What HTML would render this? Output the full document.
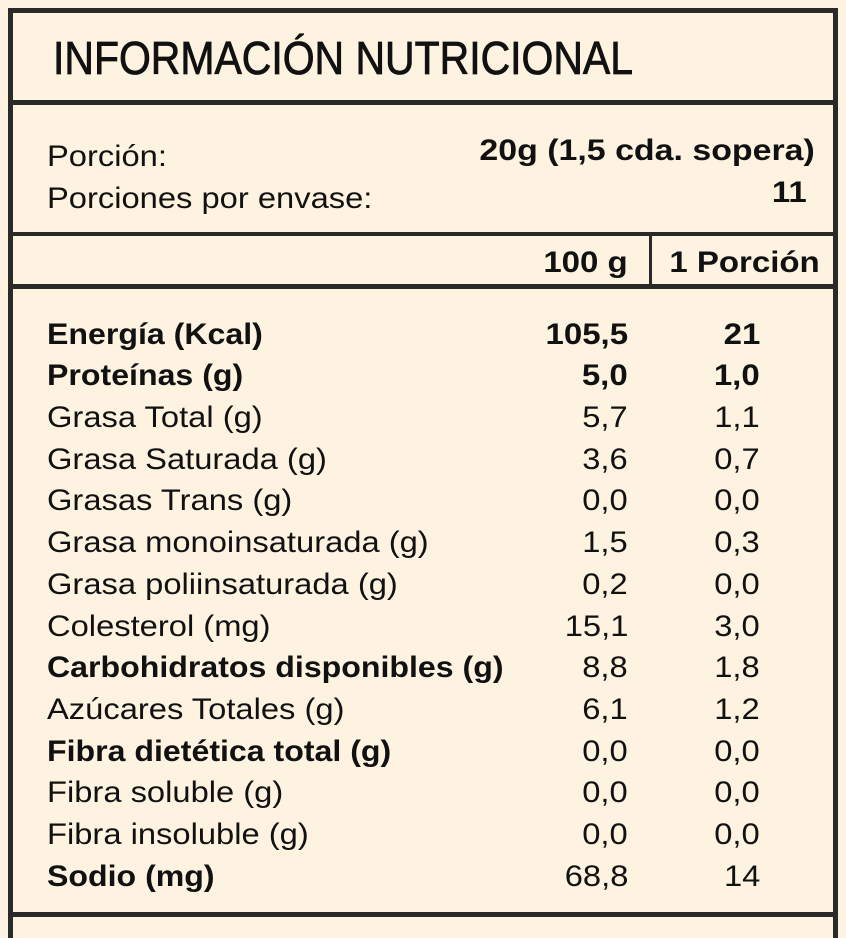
<!DOCTYPE html>
<html><head><meta charset="utf-8"><style>
body{margin:0;width:846px;height:928px;background:#fdf3e0;position:relative;overflow:hidden;font-family:"Liberation Sans",sans-serif;color:#111}
.b{position:absolute;background:#2a2a28}
.t{position:absolute;line-height:1;white-space:nowrap;font-size:30px}
.l{transform:scaleX(1.09);transform-origin:left}
.r{transform:scaleX(1.09);transform-origin:right;text-align:right}
.bold{font-weight:bold}
.l.bold{transform:scaleX(1.07)}
.r.bold{transform:scaleX(1.1)}
</style></head><body>
<div class="b" style="left:8px;top:8px;width:830px;height:5px"></div>
<div class="b" style="left:8px;top:8px;width:5px;height:930px"></div>
<div class="b" style="left:833px;top:8px;width:5px;height:930px"></div>
<div class="b" style="left:8px;top:100px;width:830px;height:5px"></div>
<div class="b" style="left:8px;top:232px;width:830px;height:4px"></div>
<div class="b" style="left:8px;top:284px;width:830px;height:5px"></div>
<div class="b" style="left:649px;top:236px;width:3px;height:48px"></div>
<div class="b" style="left:8px;top:912px;width:830px;height:5px"></div>

<div class="t" style="left:53px;top:35px;font-size:46px;transform:scaleX(.89);transform-origin:left;-webkit-text-stroke:0.8px #111">INFORMACIÓN NUTRICIONAL</div>

<div class="t l" style="left:47px;top:142px">Porción:</div>
<div class="t l" style="left:47px;top:184px">Porciones por envase:</div>
<div class="t r bold" style="right:31px;top:136px;transform:scaleX(1.13)">20g (1,5 cda. sopera)</div>
<div class="t r bold" style="right:39px;top:178px">11</div>
<div class="t r bold" style="right:218px;top:248px">100 g</div>
<div class="t r bold" style="right:26px;top:248px">1 Porción</div>

<div id="rows"></div>
<script>
var rows=[["Energía (Kcal)","105,5","21",1],["Proteínas (g)","5,0","1,0",1],["Grasa Total (g)","5,7","1,1",0],["Grasa Saturada (g)","3,6","0,7",0],["Grasas Trans (g)","0,0","0,0",0],["Grasa monoinsaturada (g)","1,5","0,3",0],["Grasa poliinsaturada (g)","0,2","0,0",0],["Colesterol (mg)","15,1","3,0",0],["Carbohidratos disponibles (g)","8,8","1,8",1],["Azúcares Totales (g)","6,1","1,2",0],["Fibra dietética total (g)","0,0","0,0",1],["Fibra soluble (g)","0,0","0,0",0],["Fibra insoluble (g)","0,0","0,0",0],["Sodio (mg)","68,8","14",1]];
var h="";
rows.forEach(function(r,i){
 var top=345+i*41.7-25.4;
 var b1=r[3]?" bold":"";
 var b2=(i<2)?" bold":"";
 h+='<div class="t l'+b1+'" style="left:47px;top:'+top+'px">'+r[0]+'</div>';
 h+='<div class="t r'+b2+'" style="right:218px;top:'+top+'px">'+r[1]+'</div>';
 h+='<div class="t r'+b2+'" style="right:86px;top:'+top+'px">'+r[2]+'</div>';
});
document.getElementById("rows").outerHTML=h;
</script>
</body></html>
